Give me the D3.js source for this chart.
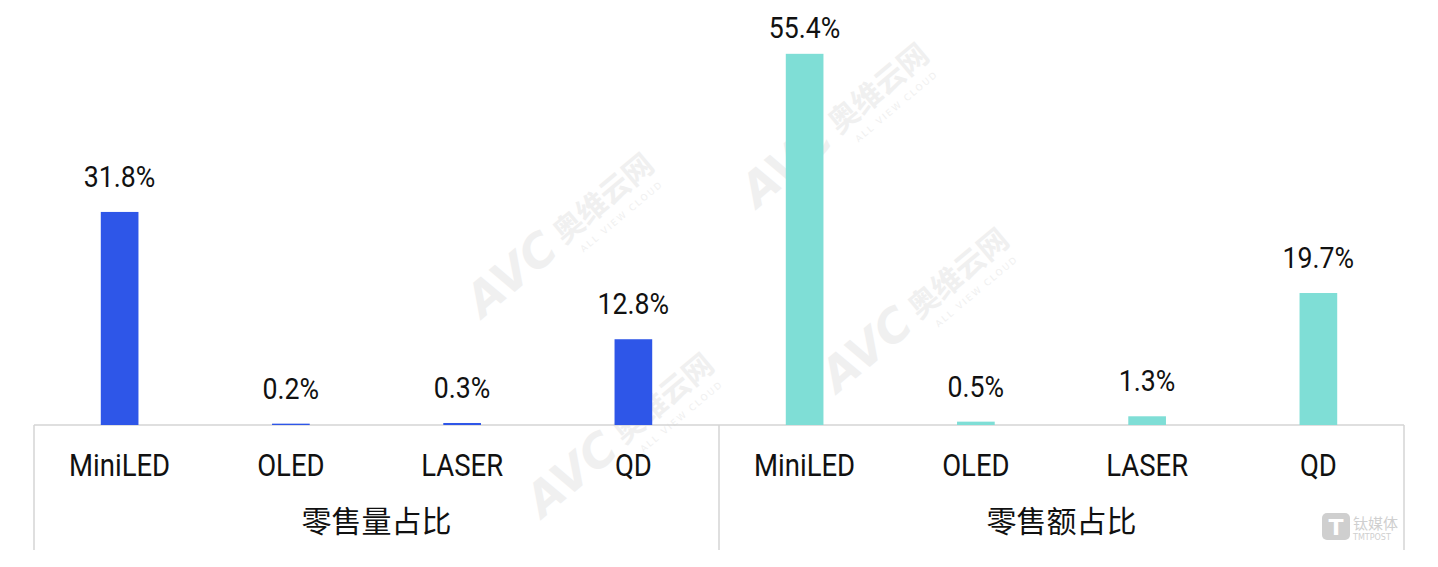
<html>

<head>
  <script src="https://d3js.org/d3.v7.min.js"></script>
  <style>
    body {
      margin: 0;
      background: white;
    }
  </style>
</head>

<body>
  <svg width="1438" height="567" id="chart"></svg>

  <script>
    const categories = ["MiniLED", "OLED", "LASER", "QD"];
    const groups = ["零售量占比", "零售额占比"];
    const volumeShare = [31.8, 0.2, 0.3, 12.8];
    const valueShare = [55.4, 0.5, 1.3, 19.7];
    const groupColors = ["#2e56e8", "#7fded6"];

    const svg = d3.select("#chart");

    const baseY = 425;
    const bottomY = 550;

    const groupScale = d3.scaleBand().domain(groups).range([34, 1404]);
    const catScale = d3.scaleBand().domain(categories)
      .range([0, groupScale.bandwidth()])
      .paddingInner(0.78)
      .paddingOuter(0.39);
    const yScale = d3.scaleLinear().domain([0, 60]).range([baseY, 23]);

    // narrow text helper: squeeze horizontally around its centre
    function narrowText(x, y, str, size, sx) {
      svg.append("text")
        .attr("transform", `translate(${x},${y}) scale(${sx},1)`)
        .style("text-anchor", "middle")
        .style("font-family", "Roboto")
        .style("font-size", size + "px")
        .style("fill", "#111")
        .text(str);
    }

    // faint watermarks
    const marks = [[540, 255], [815, 145], [895, 330], [600, 455]];
    marks.forEach(m => {
      const g = svg.append("g")
        .attr("transform", `translate(${m[0]},${m[1]}) rotate(-40)`)
        .attr("fill", "#f0f0f0");
      g.append("text")
        .attr("x", -85).attr("y", 12)
        .style("font-family", "DejaVu Sans")
        .style("font-weight", "bold")
        .style("font-style", "italic")
        .style("font-size", "46px")
        .text("AVC");
      g.append("text")
        .attr("x", 25).attr("y", 8)
        .style("font-family", "Noto Sans CJK SC")
        .style("font-weight", "bold")
        .style("font-size", "30px")
        .text("奥维云网");
      g.append("text")
        .attr("x", 35).attr("y", 26)
        .style("font-family", "DejaVu Sans")
        .style("font-size", "9px")
        .style("letter-spacing", "2px")
        .text("ALL VIEW CLOUD");
    });

    // frame
    const frame = svg.append("g").attr("stroke", "#d4d4d4").attr("stroke-width", 1.5);
    frame.append("line")
      .attr("x1", groupScale.range()[0]).attr("x2", groupScale.range()[1])
      .attr("y1", baseY).attr("y2", baseY);
    const edges = groups.map(g => groupScale(g)).concat([groupScale.range()[1]]);
    edges.forEach(x => {
      frame.append("line")
        .attr("x1", x).attr("x2", x)
        .attr("y1", baseY).attr("y2", bottomY);
    });

    const seriesList = [volumeShare, valueShare];
    groups.forEach((grp, gi) => {
      const x0 = groupScale(grp);
      const values = seriesList[gi];

      categories.forEach((cat, ci) => {
        const v = values[ci];
        const bx = x0 + catScale(cat);
        const cx = bx + catScale.bandwidth() / 2;

        svg.append("rect")
          .attr("x", bx)
          .attr("y", yScale(v))
          .attr("width", catScale.bandwidth())
          .attr("height", baseY - yScale(v))
          .attr("fill", groupColors[gi]);

        narrowText(cx, Math.max(yScale(v) - 25, 38), v.toFixed(1) + "%", 29, 0.92);
        narrowText(cx, 476, cat, 32, 0.86);
      });

      svg.append("text")
        .attr("x", x0 + groupScale.bandwidth() / 2)
        .attr("y", 532)
        .style("text-anchor", "middle")
        .style("font-family", "Noto Sans CJK SC")
        .style("font-size", "30px")
        .style("fill", "#111")
        .text(grp);
    });

    // source logo
    const logo = svg.append("g").attr("fill", "#cfcfcf");
    logo.append("rect")
      .attr("x", 1322).attr("y", 513)
      .attr("width", 28).attr("height", 27)
      .attr("rx", 5);
    logo.append("text")
      .attr("x", 1336).attr("y", 535)
      .style("text-anchor", "middle")
      .style("font-family", "DejaVu Sans")
      .style("font-weight", "bold")
      .style("font-size", "22px")
      .attr("fill", "white")
      .text("T");
    logo.append("text")
      .attr("x", 1353).attr("y", 529)
      .style("font-family", "Noto Sans CJK SC")
      .style("font-size", "15px")
      .text("钛媒体");
    logo.append("text")
      .attr("x", 1353).attr("y", 540)
      .style("font-family", "DejaVu Sans")
      .style("font-size", "8px")
      .text("TMTPOST");
  </script>
</body>

</html>
